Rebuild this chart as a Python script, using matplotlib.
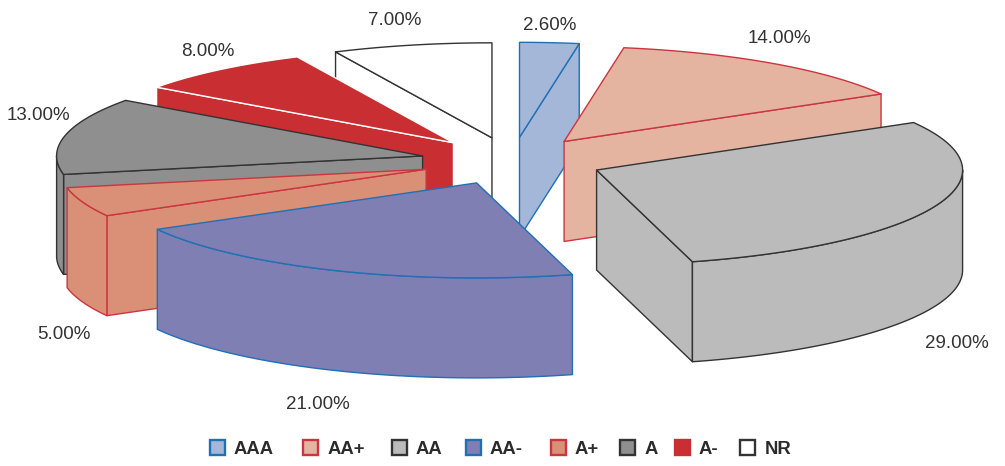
import numpy as np
import matplotlib
matplotlib.use('Agg')
import matplotlib.pyplot as plt
from matplotlib.patches import Polygon, Rectangle

plt.rcParams['font.family'] = ['Liberation Sans', 'DejaVu Sans']

ratings = ['AAA', 'AA+', 'AA', 'AA-', 'A+', 'A', 'A-', 'NR']
shares = [2.6, 14.0, 29.0, 21.0, 5.0, 13.0, 8.0, 7.0]
fills = ['#a4b7d8', '#e4b4a1', '#bbbbbb', '#7f7fb4', '#da9077', '#8f8f8f', '#c92f32', '#ffffff']
edges = ['#1f70b5', '#cc3540', '#333333', '#1f70b5', '#cc3540', '#333333', '#ffffff', '#333333']

# value label centres, same order as ratings
label_x = [550, 779, 957, 317.5, 64, 38.5, 208, 395]
label_y = [25.5, 38.5, 343.5, 404.5, 334.5, 115.5, 51.5, 20.5]

# legend box and text left edges
box_x = [209, 302, 391, 465, 550, 619, 674, 739]
text_x = [234, 328, 416, 490, 575, 645, 699, 765]

# pie geometry in pixels
cx, cy = 512.0, 161.0
rx, ry = 366.0, 95.0
depth = 100.0
explode = 0.25

# back slices first so the front ones paint over them
draw_order = [7, 0, 1, 6, 5, 4, 2, 3]

fig = plt.figure(figsize=(10.05, 4.66), dpi=100)
ax = fig.add_axes([0, 0, 1, 1])
ax.set_xlim(0, 1005)
ax.set_ylim(466, 0)
ax.axis('off')


def rim(ox, oy, t):
    return ox + rx * np.sin(t), oy - ry * np.cos(t)


def face(xs, ys, fill, edge, z):
    ax.add_patch(Polygon(np.column_stack([xs, ys]), closed=True, facecolor=fill,
                         edgecolor=edge, linewidth=1.0, joinstyle='round', zorder=z))


cum = np.cumsum([0] + shares) / sum(shares) * 2 * np.pi
for z, i in enumerate(draw_order):
    t0, t1 = cum[i], cum[i + 1]
    mid = (t0 + t1) / 2
    ox = cx + explode * rx * np.sin(mid)
    oy = cy - explode * ry * np.cos(mid)
    fill, edge = fills[i], edges[i]

    # side wall on the start radius, only if it faces the viewer
    if np.sin(t0) < -1e-6:
        x, y = rim(ox, oy, t0)
        face([x, ox, ox, x], [y, oy, oy + depth, y + depth], fill, edge, z * 10 + 1)
    # side wall on the end radius
    if np.sin(t1) > 1e-6:
        x, y = rim(ox, oy, t1)
        face([x, ox, ox, x], [y, oy, oy + depth, y + depth], fill, edge, z * 10 + 1)

    # curved outer wall, front half of the ellipse only
    a, b = max(t0, np.pi / 2), min(t1, 3 * np.pi / 2)
    if b > a:
        t = np.linspace(a, b, 80)
        x, y = rim(ox, oy, t)
        face(np.r_[x, x[::-1]], np.r_[y, y[::-1] + depth], fill, edge, z * 10 + 2)

    # top face
    t = np.linspace(t0, t1, 120)
    x, y = rim(ox, oy, t)
    face(np.r_[ox, x], np.r_[oy, y], fill, edge, z * 10 + 3)

for i, v in enumerate(shares):
    ax.text(label_x[i], label_y[i], f'{v:.2f}%', fontsize=13.5, color='#333333',
            ha='center', va='center', zorder=200)

for i, name in enumerate(ratings):
    ax.add_patch(Rectangle((box_x[i] + 1, 440), 14.7, 14.7, facecolor=fills[i],
                           edgecolor=edges[i] if name != 'A-' else fills[i],
                           linewidth=1.7, zorder=200))
    ax.text(text_x[i], 454, name, fontsize=13.3, fontweight='bold', color='#2b2b2b',
            ha='left', va='baseline', zorder=200)

fig.savefig('out.png', dpi=100, facecolor='white')
